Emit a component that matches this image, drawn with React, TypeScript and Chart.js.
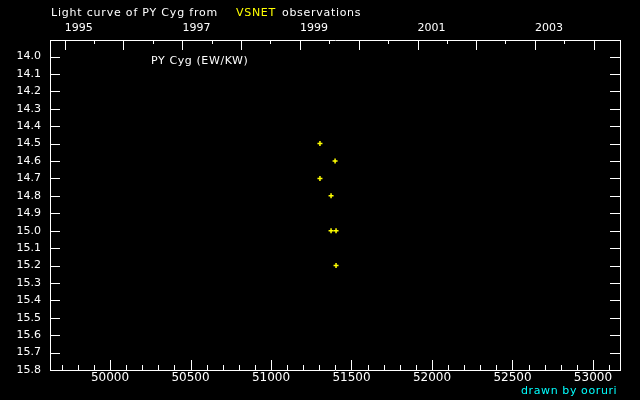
import { useEffect, useRef } from "react";
import { Chart, registerables } from "chart.js";

Chart.register(...registerables);

// ---- data (JD - 2400000, visual magnitude) ----
const observationJD = [51304, 51398, 51304, 51373, 51373, 51404, 51404];
const observationMag = [14.5, 14.6, 14.7, 14.8, 15.0, 15.0, 15.2];

// ---- axis ranges and tick labels ----
const jdMin = 49627;
const jdMax = 53168;
const magMin = 13.905;
const magMax = 15.8;
const magTicks = [14.0, 14.1, 14.2, 14.3, 14.4, 14.5, 14.6, 14.7, 14.8, 14.9, 15.0, 15.1, 15.2, 15.3, 15.4, 15.5, 15.6, 15.7, 15.8];
const jdLabelTicks = [50000, 50500, 51000, 51500, 52000, 52500, 53000];
const jdMinorStep = 100;
const yearTicks = [1995, 1996, 1997, 1998, 1999, 2000, 2001, 2002, 2003, 2004];
const yearLabels = ["1995", "1997", "1999", "2001", "2003"];

const FONT = '"DejaVu Sans", sans-serif';

function yearToJD(year: number, month: number) {
  return Date.UTC(year, month, 1) / 86400000 + 2440587.5 - 2400000;
}

function buildJDTicks() {
  const out: { value: number }[] = [];
  const start = Math.ceil(jdMin / jdMinorStep) * jdMinorStep;
  for (let v = start; v <= jdMax; v += jdMinorStep) out.push({ value: v });
  return out;
}

function buildYearTicks() {
  const out: { value: number; major: boolean; label: string }[] = [];
  for (const y of yearTicks) {
    const jan = yearToJD(y, 0);
    if (jan >= jdMin && jan <= jdMax) {
      out.push({ value: jan, major: true, label: yearLabels.includes(String(y)) ? String(y) : "" });
    }
    const jul = yearToJD(y, 6);
    if (jul >= jdMin && jul <= jdMax) {
      out.push({ value: jul, major: false, label: "" });
    }
  }
  return out;
}

const inwardTicks = {
  id: "inwardTicks",
  afterDraw(chart: any) {
    const { ctx, chartArea: a, scales } = chart;
    ctx.save();
    ctx.strokeStyle = "#ffffff";
    ctx.lineWidth = 1;
    ctx.beginPath();
    const sx = scales.x;
    for (const t of sx.ticks) {
      const p = Math.round(sx.getPixelForValue(t.value)) + 0.5;
      const len = jdLabelTicks.includes(t.value) ? 10 : 5;
      ctx.moveTo(p, a.bottom);
      ctx.lineTo(p, a.bottom - len);
    }
    const sx2 = scales.x2;
    for (const t of sx2.ticks) {
      const p = Math.round(sx2.getPixelForValue(t.value)) + 0.5;
      const len = t.major ? 10 : 4;
      ctx.moveTo(p, a.top);
      ctx.lineTo(p, a.top + len);
    }
    const sy = scales.y;
    for (const t of sy.ticks) {
      const p = Math.round(sy.getPixelForValue(t.value)) + 0.5;
      ctx.moveTo(a.left, p);
      ctx.lineTo(a.left + 10, p);
      ctx.moveTo(a.right, p);
      ctx.lineTo(a.right - 10, p);
    }
    ctx.stroke();
    ctx.restore();
  },
};

export default function App() {
  const ref = useRef<HTMLCanvasElement | null>(null);

  useEffect(() => {
    if (!ref.current) return;
    const yearTickList = buildYearTicks();
    const chart = new Chart(ref.current, {
      type: "scatter",
      data: {
        datasets: [
          {
            data: observationJD.map((x, i) => ({ x, y: observationMag[i] })),
            pointStyle: "cross",
            radius: 2.5,
            borderColor: "#ffff00",
            backgroundColor: "#ffff00",
            borderWidth: 1.5,
          },
        ],
      },
      options: {
        animation: false,
        responsive: false,
        devicePixelRatio: 1,
        layout: { padding: { left: 0, right: 20, top: 0, bottom: 0 } },
        plugins: { legend: { display: false }, tooltip: { enabled: false }, title: { display: false } },
        scales: {
          x: {
            type: "linear",
            position: "bottom",
            min: jdMin,
            max: jdMax,
            grid: { display: false, drawTicks: false },
            border: { display: true, color: "#ffffff", width: 1 },
            afterBuildTicks: (s: any) => {
              s.ticks = buildJDTicks();
            },
            afterFit: (s: any) => {
              s.height = 30;
            },
            ticks: {
              autoSkip: false,
              maxRotation: 0,
              minRotation: 0,
              padding: 1,
              color: "#ffffff",
              font: { family: FONT, size: 12 },
              callback: (v: any) => (jdLabelTicks.includes(Number(v)) ? String(v) : ""),
            },
          },
          x2: {
            type: "linear",
            position: "top",
            min: jdMin,
            max: jdMax,
            grid: { display: false, drawTicks: false },
            border: { display: true, color: "#ffffff", width: 1 },
            afterBuildTicks: (s: any) => {
              s.ticks = yearTickList.map((t) => ({ value: t.value, major: t.major }));
            },
            afterFit: (s: any) => {
              s.height = 40;
            },
            ticks: {
              autoSkip: false,
              maxRotation: 0,
              minRotation: 0,
              align: "start",
              padding: 5,
              color: "#ffffff",
              font: { family: FONT, size: 11 },
              callback: (_v: any, i: number) => yearTickList[i]?.label ?? "",
            },
          },
          y: {
            type: "linear",
            position: "left",
            reverse: true,
            min: magMin,
            max: magMax,
            grid: { display: false, drawTicks: false },
            border: { display: true, color: "#ffffff", width: 1 },
            afterBuildTicks: (s: any) => {
              s.ticks = magTicks.map((v) => ({ value: v }));
            },
            afterFit: (s: any) => {
              s.width = 50;
            },
            ticks: {
              autoSkip: false,
              padding: 9,
              color: "#ffffff",
              font: { family: FONT, size: 11 },
              callback: (v: any) => Number(v).toFixed(1),
            },
          },
          y2: {
            type: "linear",
            position: "right",
            reverse: true,
            min: magMin,
            max: magMax,
            grid: { display: false, drawTicks: false },
            border: { display: true, color: "#ffffff", width: 1 },
            afterFit: (s: any) => {
              s.width = 0;
            },
            ticks: { display: false },
          },
        },
      },
      plugins: [inwardTicks],
    } as any);
    return () => chart.destroy();
  }, []);

  const txt = {
    position: "absolute" as const,
    whiteSpace: "pre" as const,
    lineHeight: "13px",
    letterSpacing: "0.7px",
  };

  return (
    <div
      style={{
        position: "fixed",
        left: 0,
        top: 0,
        width: 640,
        height: 400,
        background: "#000000",
        fontFamily: FONT,
        fontSize: 11,
        overflow: "hidden",
      }}
    >
      <canvas ref={ref} width={640} height={400} style={{ position: "absolute", left: 0, top: 0 }} />
      <span style={{ ...txt, left: 51, top: 6, color: "#ffffff", letterSpacing: "0.8px" }}>Light curve of PY Cyg from</span>
      <span style={{ ...txt, left: 236, top: 6, color: "#ffff00" }}>VSNET</span>
      <span style={{ ...txt, left: 282, top: 6, color: "#ffffff" }}>observations</span>
      <span style={{ ...txt, left: 151, top: 54, color: "#ffffff", letterSpacing: "0.6px" }}>PY Cyg (EW/KW)</span>
      <span style={{ ...txt, left: 521, top: 384, color: "#00ffff", letterSpacing: "0.6px" }}>drawn by ooruri</span>
    </div>
  );
}
